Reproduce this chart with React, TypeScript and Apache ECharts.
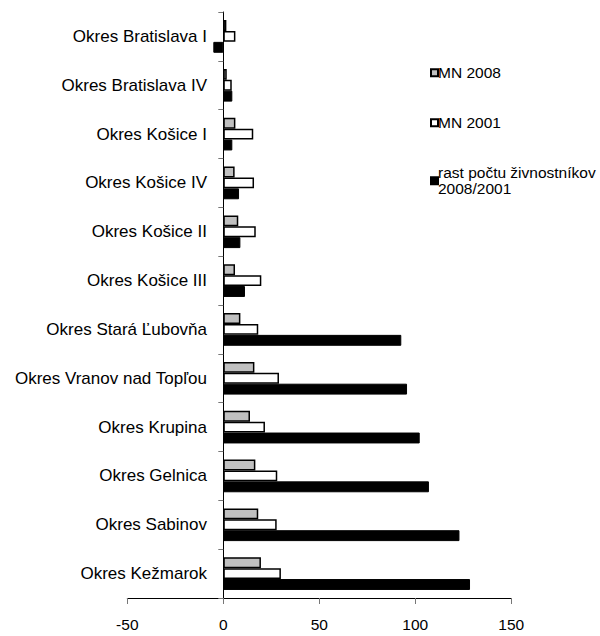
import React, { useEffect, useRef } from "react";
import * as echarts from "echarts";

const categories = [
  "Okres Bratislava I",
  "Okres Bratislava IV",
  "Okres Košice I",
  "Okres Košice IV",
  "Okres Košice II",
  "Okres Košice III",
  "Okres Stará Ľubovňa",
  "Okres Vranov nad Topľou",
  "Okres Krupina",
  "Okres Gelnica",
  "Okres Sabinov",
  "Okres Kežmarok",
];

const mn2008 = [1.6, 1.8, 6.3, 5.9, 7.8, 6.1, 8.9, 16.2, 13.9, 16.7, 18.2, 19.6];
const mn2001 = [6.3, 4.4, 15.6, 16, 16.9, 19.8, 18.2, 29, 21.7, 28.1, 27.8, 30];
const rast = [-5.2, 4.7, 4.7, 8.2, 8.9, 11.3, 92.7, 95.7, 102.3, 107.1, 123, 128.5];

const xTicks = { min: -50, max: 150, interval: 50 };

const seriesNames = ["MN 2008", "MN 2001", "rast počtu živnostníkov\n2008/2001"];

export default function App() {
  const ref = useRef<HTMLDivElement>(null);
  useEffect(() => {
    if (!ref.current) return;
    const chart = echarts.init(ref.current, undefined, { renderer: "svg" });
    const font = "'Liberation Sans', Arial, sans-serif";
    const barBase = {
      type: "bar" as const,
      barGap: "0%",
      barCategoryGap: "33%",
    };
    chart.setOption({
      animation: false,
      textStyle: { fontFamily: font, color: "#000" },
      grid: {
        left: 127.3,
        top: 12,
        width: 384,
        height: 586,
        containLabel: false,
        outerBoundsMode: "none",
      },
      legend: {
        orient: "vertical",
        left: 425,
        top: 59.7,
        itemWidth: 7,
        itemHeight: 7,
        itemGap: 34,
        icon: "rect",
        textStyle: {
          fontFamily: font,
          fontSize: 15.5,
          color: "#000",
          lineHeight: 16,
          padding: [0, 0, 0, -5],
        },
        data: seriesNames,
      },
      xAxis: {
        type: "value",
        min: xTicks.min,
        max: xTicks.max,
        interval: xTicks.interval,
        splitLine: { show: false },
        axisLine: { show: true, onZero: false, lineStyle: { color: "#000", width: 1 } },
        axisTick: { show: true, length: 6, lineStyle: { color: "#777" } },
        axisLabel: { fontFamily: font, fontSize: 15.5, color: "#000", margin: 18 },
      },
      yAxis: {
        type: "category",
        data: categories,
        inverse: true,
        axisLine: { show: true, onZero: true, lineStyle: { color: "#000", width: 1 } },
        axisTick: { show: true, length: 5, inside: false, lineStyle: { color: "#777" } },
        axisLabel: { fontFamily: font, fontSize: 17, color: "#000", margin: -79.7 },
      },
      series: [
        {
          ...barBase,
          name: seriesNames[0],
          data: mn2008,
          itemStyle: { color: "#c0c0c0", borderColor: "#000", borderWidth: 1.5 },
        },
        {
          ...barBase,
          name: seriesNames[1],
          data: mn2001,
          itemStyle: { color: "#ffffff", borderColor: "#000", borderWidth: 1.5 },
        },
        {
          ...barBase,
          name: seriesNames[2],
          data: rast,
          itemStyle: { color: "#000", borderColor: "#000", borderWidth: 1 },
        },
      ],
    });
    return () => chart.dispose();
  }, []);
  return (
    <div
      ref={ref}
      style={{ position: "absolute", left: 0, top: 0, width: 600, height: 636, background: "#fff" }}
    />
  );
}
